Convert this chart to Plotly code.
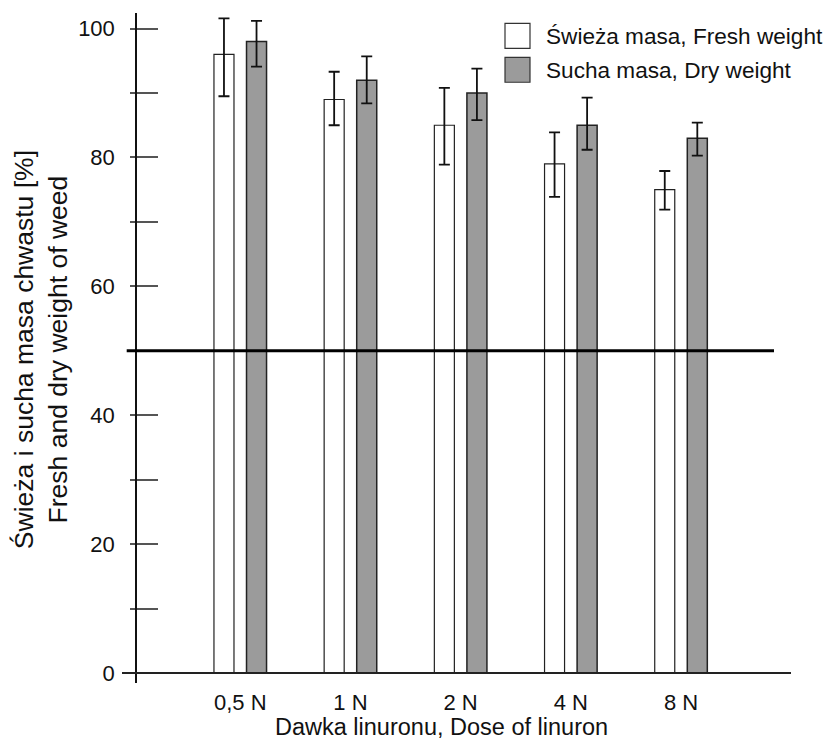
import plotly.graph_objects as go

categories = ["0,5 N", "1 N", "2 N", "4 N", "8 N"]
fresh = [96.0, 89.0, 85.0, 79.0, 75.0]
fresh_plus = [5.6, 4.3, 5.8, 4.9, 2.9]
fresh_minus = [6.5, 4.0, 6.1, 5.1, 3.1]
dry = [98.0, 92.0, 90.0, 85.0, 83.0]
dry_plus = [3.2, 3.7, 3.8, 4.3, 2.4]
dry_minus = [3.9, 3.6, 4.2, 3.8, 2.7]
threshold = 50
y_tickvals = list(range(0, 101, 10))
y_ticktext = [str(v) if v % 20 == 0 else "" for v in y_tickvals]
series_names = ["Świeża masa, Fresh weight", "Sucha masa, Dry weight"]
series_colors = ["white", "#9b9b9b"]

FONT = "Liberation Sans, Arial, sans-serif"
L, T, PLOT_W, PLOT_H = 137.0, 12.7, 654.0, 670.3


def px(x):
    return (x - L) / PLOT_W


def py(y):
    return (T + PLOT_H - y) / PLOT_H


fig = go.Figure()
fig.add_trace(go.Bar(
    name=series_names[0], x=categories, y=fresh, showlegend=False,
    marker=dict(color=series_colors[0], line=dict(color="#222", width=1.2)),
    error_y=dict(type="data", symmetric=False, array=fresh_plus, arrayminus=fresh_minus,
                 color="#111", thickness=1.8, width=5.5),
))
fig.add_trace(go.Bar(
    name=series_names[1], x=categories, y=dry, showlegend=False,
    marker=dict(color=series_colors[1], line=dict(color="#222", width=1.5)),
    error_y=dict(type="data", symmetric=False, array=dry_plus, arrayminus=dry_minus,
                 color="#111", thickness=1.8, width=5.5),
))
# invisible trace hosting the overlaid axis that draws the inner half of the ticks
fig.add_trace(go.Scatter(x=categories, y=fresh, yaxis="y2", mode="markers",
                         marker=dict(opacity=0), showlegend=False, hoverinfo="skip"))

shapes = [
    dict(type="line", xref="paper", yref="y", x0=px(122), x1=1, y0=0, y1=0,
         line=dict(color="#222", width=1.8)),
    dict(type="line", xref="paper", yref="y", x0=px(126.7), x1=px(774),
         y0=threshold, y1=threshold, line=dict(color="#000", width=3)),
]
annotations = [
    dict(text="Dawka linuronu, Dose of linuron", xref="paper", yref="paper",
         x=px(441), y=py(727), xanchor="center", yanchor="middle", showarrow=False,
         font=dict(size=23.5, color="#111")),
    dict(text="Świeża i sucha masa chwastu [%]<br>Fresh and dry weight of weed",
         xref="paper", yref="paper", x=px(41), y=py(350), xanchor="center",
         yanchor="middle", textangle=-90, showarrow=False,
         font=dict(size=26.5, color="#111")),
]
# legend (swatches + labels)
for i, (name, col) in enumerate(zip(series_names, series_colors)):
    top = 23 + 34 * i
    shapes.append(dict(type="rect", xref="paper", yref="paper",
                       x0=px(505), x1=px(530), y0=py(top + 25), y1=py(top),
                       fillcolor=col, line=dict(color="#333", width=1.2)))
    annotations.append(dict(text=name, xref="paper", yref="paper", x=px(544),
                            y=py(top + 13), xanchor="left", yanchor="middle",
                            showarrow=False, font=dict(size=22.6, color="#111")))

fig.update_layout(
    width=827, height=743,
    margin=dict(l=137, r=36, t=13, b=60),
    paper_bgcolor="white", plot_bgcolor="white",
    barmode="group", bargap=0.409, bargroupgap=0.385,
    font=dict(family=FONT, size=22, color="#111"),
    showlegend=False,
    xaxis=dict(range=[-0.937, 4.998], showline=False, ticks="", showgrid=False,
               tickfont=dict(size=22), ticklabelstandoff=4),
    yaxis=dict(range=[-1.55, 102.42], tickvals=y_tickvals, ticktext=y_ticktext,
               ticks="outside", ticklen=5, tickwidth=1.5, tickcolor="#555",
               showline=True, linecolor="#111", linewidth=1.5, showgrid=False,
               zeroline=False, tickfont=dict(size=22), ticklabelstandoff=11),
    yaxis2=dict(overlaying="y", matches="y", side="left", tickvals=y_tickvals,
                ticks="inside", ticklen=21, tickwidth=1.5, tickcolor="#555",
                showticklabels=False, showgrid=False, zeroline=False, showline=False),
    annotations=annotations,
    shapes=shapes,
)

fig.write_html("out.html")
